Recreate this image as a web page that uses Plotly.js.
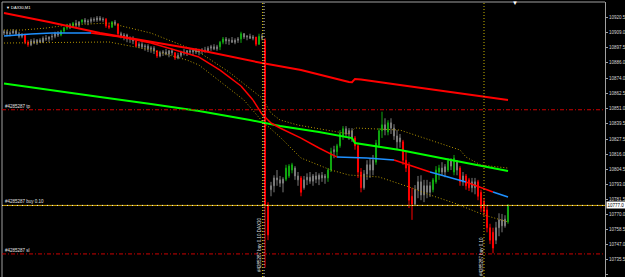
<!DOCTYPE html>
<html><head><meta charset="utf-8">
<script src="https://cdn.plot.ly/plotly-3.0.1.min.js"></script>
<style>html,body{margin:0;padding:0;background:#000;}#chart{width:625px;height:277px;}</style>
</head><body><div id="chart"></div>
<script>
// ---- DATA ----
const symbolTitle = "▼ DAX30,M1";
// bar colouring: n = neutral(gray), g = green, r = red
const barType = ("nnnnnnn"+"rr"+"nnnnnnnnnn"+"ggg"+"n"+"g"+"nn"+"g"+"nnnnnnn"+"rr"+"g"+"n"+"r"+"nnnnn"+"r"+"nnnnnn"+"r"+"nnnnn"+"r"+
  "nnnnnnnnnnnnnn"+"gg"+"nnnnn"+"g"+"nnnn"+"r"+"g"+"n"+"rr"+"nnnnn"+"ggg"+"nn"+"r"+"nnnnnnnn"+"gg"+"n"+"ggg"+"nnn"+"rrr"+"nnnn"+
  "ggg"+"n"+"g"+"nnnn"+"rrrr"+"nnnnnn"+"ggg"+"nn"+"g"+"n"+"g"+"n"+"r"+"n"+"rr"+"nn"+"rrrrrr"+"nnnn"+"g").split('');

const openP = [
10908.5,10909.5,10908.0,10908.5,10910.0,10908.0,10906.0,10907.0,10901.5,10899.5,
10902.5,10901.0,10903.0,10901.5,10904.5,10904.0,10905.5,10906.0,10908.0,10907.0,
10910.0,10912.5,10914.5,10913.0,10916.0,10914.5,10917.0,10918.5,10917.0,10917.5,
10919.0,10918.5,10920.0,10918.5,10919.0,10914.0,10913.0,10917.0,10915.5,10908.0,
10906.0,10907.0,10904.0,10904.5,10902.5,10898.5,10900.0,10898.0,10898.5,10896.5,
10897.0,10895.0,10891.0,10893.5,10894.0,10892.5,10895.0,10893.5,10889.5,10891.5,
10894.0,10893.5,10895.0,10894.0,10895.5,10894.0,10895.0,10895.5,10895.0,10897.0,
10898.0,10896.5,10898.0,10901.5,10904.0,10902.5,10903.0,10901.5,10903.0,10904.0,
10908.0,10905.5,10906.0,10904.5,10905.5,10900.0,10906.0,10903.0,10777.5,10789.0,
10792.0,10798.0,10796.5,10794.0,10797.0,10799.5,10804.0,10805.5,10799.5,10798.0,
10790.5,10796.5,10798.5,10795.5,10799.5,10797.0,10800.0,10798.0,10798.0,10804.0,
10818.0,10818.0,10822.5,10830.0,10835.5,10831.5,10834.0,10828.5,10822.5,10802.5,
10790.5,10801.0,10808.0,10804.0,10810.0,10823.0,10834.0,10838.5,10833.0,10840.0,
10836.0,10830.0,10825.5,10825.5,10811.5,10807.0,10784.0,10778.0,10789.0,10795.0,
10785.0,10792.0,10787.0,10789.0,10795.0,10802.5,10805.5,10802.5,10804.0,10811.0,
10802.5,10810.0,10805.5,10795.0,10799.5,10796.5,10790.5,10795.0,10795.0,10787.0,
10779.5,10773.5,10760.0,10756.5,10750.5,10760.0,10766.0,10761.5,10764.5];
const highP = [
10911.0,10911.0,10910.0,10911.5,10911.0,10909.5,10908.5,10908.0,10903.0,10904.0,
10904.5,10904.0,10904.5,10906.0,10907.0,10906.0,10908.0,10909.5,10910.0,10911.0,
10913.0,10915.5,10916.0,10917.0,10918.5,10917.5,10919.0,10920.0,10919.0,10920.5,
10920.5,10921.5,10921.5,10920.5,10920.0,10916.0,10917.5,10918.5,10916.0,10909.5,
10908.5,10908.0,10906.0,10906.0,10903.0,10901.5,10901.5,10900.0,10900.0,10898.5,
10898.5,10895.5,10895.0,10895.5,10896.5,10895.5,10896.5,10894.0,10893.5,10895.0,
10896.5,10895.5,10897.0,10896.5,10897.0,10896.5,10897.0,10898.0,10898.5,10899.5,
10900.0,10899.5,10902.5,10905.5,10905.5,10904.5,10905.5,10904.5,10905.5,10909.5,
10908.5,10907.0,10908.0,10907.0,10905.5,10908.0,10908.0,10904.5,10779.5,10795.0,
10800.0,10804.0,10799.5,10798.5,10808.0,10808.5,10809.5,10807.0,10802.5,10799.5,
10799.5,10801.5,10802.5,10801.0,10802.5,10801.5,10802.5,10801.0,10805.5,10821.0,
10822.5,10824.0,10834.5,10837.5,10837.5,10836.0,10836.0,10830.0,10824.5,10805.5,
10804.0,10811.5,10813.0,10815.5,10827.0,10836.0,10848.5,10843.5,10842.0,10843.5,
10839.0,10834.5,10831.5,10827.0,10818.0,10810.0,10790.5,10792.5,10799.5,10800.0,
10796.5,10796.5,10795.0,10798.0,10807.0,10808.0,10810.0,10808.5,10813.0,10813.0,
10815.5,10811.5,10807.0,10802.5,10801.0,10798.0,10798.0,10798.0,10796.5,10789.0,
10782.5,10776.5,10763.0,10760.0,10764.5,10771.0,10770.5,10769.5,10778.0];
const lowP = [
10907.0,10906.0,10906.0,10908.0,10907.0,10904.5,10904.5,10900.0,10898.0,10898.5,
10900.0,10899.5,10901.0,10901.0,10902.5,10901.5,10903.0,10904.5,10905.5,10906.0,
10908.5,10911.0,10911.5,10912.5,10913.0,10913.0,10915.5,10915.5,10914.5,10916.0,
10917.0,10917.0,10917.5,10917.0,10912.5,10911.5,10912.5,10914.0,10906.0,10904.5,
10903.0,10901.5,10901.0,10900.0,10898.0,10897.0,10896.5,10895.0,10894.0,10893.5,
10892.5,10889.5,10890.0,10891.0,10891.5,10890.0,10891.5,10888.0,10888.5,10890.0,
10891.5,10891.0,10892.5,10891.5,10892.5,10891.5,10892.5,10893.5,10894.0,10895.0,
10895.5,10895.0,10895.5,10900.0,10900.0,10899.5,10901.0,10900.0,10901.0,10901.0,
10904.0,10903.0,10904.0,10903.0,10898.5,10899.5,10903.0,10729.5,10750.5,10784.0,
10787.0,10792.0,10791.0,10787.0,10795.5,10798.0,10801.5,10796.5,10792.0,10784.0,
10789.0,10792.5,10793.5,10792.0,10794.0,10792.5,10795.0,10793.5,10795.0,10802.5,
10813.0,10814.5,10821.0,10827.0,10829.0,10827.0,10825.5,10819.5,10798.0,10787.0,
10789.0,10796.5,10798.0,10800.0,10808.0,10821.0,10828.5,10830.5,10830.5,10831.5,
10827.0,10819.5,10821.0,10808.0,10802.5,10775.0,10766.0,10776.5,10782.5,10781.0,
10779.5,10782.5,10783.5,10787.0,10793.5,10796.5,10799.5,10798.5,10802.5,10804.0,
10800.0,10800.0,10792.0,10792.0,10789.0,10788.0,10787.0,10785.5,10781.0,10772.0,
10769.0,10756.5,10747.5,10740.5,10747.5,10753.5,10756.5,10760.0,10763.0];
const closeP = [
10909.5,10908.0,10908.5,10910.0,10908.0,10906.0,10907.0,10901.5,10899.5,10902.5,
10901.0,10903.0,10901.5,10904.5,10904.0,10905.5,10906.0,10908.0,10907.0,10910.0,
10912.5,10914.5,10913.0,10916.0,10914.5,10917.0,10918.5,10917.0,10917.5,10919.0,
10918.5,10920.0,10918.5,10919.0,10914.0,10913.0,10917.0,10915.5,10908.0,10906.0,
10907.0,10904.0,10904.5,10902.5,10898.5,10900.0,10898.0,10898.5,10896.5,10897.0,
10895.0,10891.0,10893.5,10894.0,10892.5,10895.0,10893.5,10889.5,10891.5,10894.0,
10893.5,10895.0,10894.0,10895.5,10894.0,10895.0,10895.5,10895.0,10897.0,10898.0,
10896.5,10898.0,10901.5,10904.0,10902.5,10903.0,10901.5,10903.0,10904.0,10908.0,
10905.5,10906.0,10904.5,10905.5,10900.0,10906.0,10904.5,10777.5,10754.5,10792.0,
10798.0,10796.5,10794.0,10797.0,10805.5,10807.0,10808.0,10799.5,10796.5,10787.0,
10796.5,10798.5,10795.5,10799.5,10797.0,10800.0,10798.0,10799.5,10804.0,10818.0,
10819.5,10822.5,10832.0,10835.5,10831.5,10834.0,10828.5,10822.5,10802.5,10790.5,
10801.0,10808.0,10804.0,10811.5,10824.5,10834.0,10838.5,10834.5,10840.0,10836.0,
10830.0,10825.5,10828.5,10811.5,10805.5,10781.0,10778.0,10789.0,10795.0,10785.0,
10792.0,10787.0,10792.0,10796.5,10804.0,10805.5,10802.5,10806.5,10811.0,10807.0,
10813.0,10804.0,10795.0,10799.5,10792.0,10790.5,10795.0,10790.5,10784.0,10775.0,
10772.0,10760.0,10750.5,10744.5,10760.0,10766.0,10761.5,10766.5,10776.5];

// slow moving average (red)
const slowMaX = [0,15,32,49,65,86,99,115,116,117,119,132,149,168];
const slowMaY = [10923.8,10916.9,10908.5,10901.7,10895.6,10885.6,10880.3,10871.2,10871.0,10873.5,10873.0,10868.9,10863.5,10857.4];
// green moving average
const greenMaX = [0,15,32,49,65,82,92,105,116,117,132,149,168];
const greenMaY = [10870.0,10865.0,10859.7,10854.4,10849.0,10842.2,10837.6,10833.0,10828.4,10824.6,10819.3,10811.7,10803.3];
// trend-coloured moving average (b = rising/blue, r = falling/red; colour of segment starting at point)
const trendMaX = [0,9,16,29,39,49,57,65,72,79,83,86,89,92,99,105,111,121,130,142,154,163,168];
const trendMaY = [10906.2,10907.8,10908.5,10908.5,10905.5,10900.9,10895.6,10890.2,10880.3,10868.1,10857.4,10846.7,10839.9,10836.1,10828.4,10820.8,10813.9,10813.2,10811.7,10802.5,10794.9,10787.2,10783.4];
const trendMaDir = ['b','b','b','r','r','r','r','r','r','r','r','r','r','r','r','r','b','b','r','b','r','b','b'];
// envelope bands (dotted)
const envUpX = [0,6,14,21,35,49,65,75,86,89,92,98,115,117,132,139,152,154,159,168];
const envUpY = [10910.8,10910.8,10912.3,10914.6,10916.2,10908.5,10894.0,10878.8,10858.9,10847.5,10842.2,10838.3,10831.5,10836.1,10834.5,10829.2,10819.3,10813.9,10807.8,10805.5];
const envLoX = [0,35,49,61,65,80,86,92,99,109,115,125,135,142,150,154,160,168];
const envLoY = [10900.9,10901.7,10895.6,10887.9,10884.1,10857.4,10841.4,10829.2,10813.2,10804.0,10800.2,10798.7,10791.1,10785.0,10778.9,10775.0,10769.7,10764.4];

// order levels
const orderId = "#4285287";
const tpPrice = 10850.0, buyPrice = 10777.0, slPrice = 10740.0, bidPrice = 10777.0;
const vLineX = [86.17, 160];
const vLineWhiteX = 86.67;
const tickVals = [10920.5,10909.0,10897.5,10886.0,10874.0,10862.5,10851.0,10839.5,10827.5,10816.0,10804.5,10793.0,10781.5,10770.0,10758.5,10747.0,10735.5,10724.0];

// ---- BUILD ----
const colors = {n:'#7a7a7a', g:'#10a810', r:'#ff0000'};
const traces = [];
['n','g','r'].forEach(t=>{
  const x=[],o=[],h=[],l=[],c=[];
  for(let i=0;i<barType.length;i++){ if(barType[i]===t){x.push(i);o.push(openP[i]);h.push(highP[i]);l.push(lowP[i]);c.push(closeP[i]);} }
  traces.push({type:'candlestick', x:x, open:o, high:h, low:l, close:c, whiskerwidth:0,
    increasing:{line:{color:colors[t],width:1},fillcolor:colors[t]},
    decreasing:{line:{color:colors[t],width:1},fillcolor:colors[t]}, hoverinfo:'skip'});
});
const dotted = '#b49600';
traces.push({type:'scatter',mode:'lines',x:envUpX,y:envUpY,line:{color:dotted,width:1,dash:'1px,2px'}});
traces.push({type:'scatter',mode:'lines',x:envLoX,y:envLoY,line:{color:dotted,width:1,dash:'1px,2px'}});
traces.push({type:'scatter',mode:'lines',x:greenMaX,y:greenMaY,line:{color:'#00ff00',width:2}});
traces.push({type:'scatter',mode:'lines',x:slowMaX,y:slowMaY,line:{color:'#ff0000',width:2}});
for(let i=0;i<trendMaX.length-1;i++){
  traces.push({type:'scatter',mode:'lines',x:[trendMaX[i],trendMaX[i+1]],y:[trendMaY[i],trendMaY[i+1]],
    line:{color: trendMaDir[i]==='b' ? '#1e90ff' : '#ff0000', width:1.5}});
}

const shapes = [
  {type:'line',xref:'paper',yref:'paper',x0:0,x1:0,y0:0,y1:1,line:{color:'#a0a0a0',width:1}},
  {type:'line',xref:'paper',yref:'paper',x0:0,x1:1,y0:1,y1:1,line:{color:'#a0a0a0',width:1}},
  {type:'line',xref:'paper',yref:'y',x0:0,x1:1,y0:tpPrice,y1:tpPrice,line:{color:'#cc0000',width:1,dash:'4px,2px,1px,2px'}},
  {type:'line',xref:'paper',yref:'y',x0:0,x1:1,y0:slPrice,y1:slPrice,line:{color:'#cc0000',width:1,dash:'4px,2px,1px,2px'}},
  {type:'line',xref:'paper',yref:'y',x0:0,x1:1,y0:buyPrice,y1:buyPrice,line:{color:'#d0a400',width:1}},
  {type:'line',xref:'paper',yref:'y',x0:0,x1:1,y0:buyPrice,y1:buyPrice,line:{color:'#e8e8e8',width:1,dash:'1px,4px'}},
  {type:'line',xref:'x',yref:'paper',x0:vLineWhiteX,x1:vLineWhiteX,y0:0,y1:1,line:{color:'#d8d8d8',width:1,dash:'1px,2px'}}
];
vLineX.forEach(v=>shapes.push({type:'line',xref:'x',yref:'paper',x0:v,x1:v,y0:0,y1:1,line:{color:'#c8b400',width:1,dash:'1px,2px'}}));

const small = {family:'Liberation Sans, Arial, sans-serif', size:4.5, color:'#e0e0e0'};
const annotations = [
  {xref:'paper',yref:'paper',x:0.004,y:1,xanchor:'left',yanchor:'top',yshift:-1,text:symbolTitle,showarrow:false,font:{family:small.family,size:4,color:'#ffffff'}},
  {xref:'paper',yref:'y',x:0.004,y:tpPrice,xanchor:'left',yanchor:'bottom',text:orderId+' tp',showarrow:false,font:small,borderpad:0},
  {xref:'paper',yref:'y',x:0.004,y:buyPrice,xanchor:'left',yanchor:'bottom',text:orderId+' buy 0.10',showarrow:false,font:small,borderpad:0},
  {xref:'paper',yref:'y',x:0.004,y:slPrice,xanchor:'left',yanchor:'bottom',text:orderId+' sl',showarrow:false,font:small,borderpad:0},
  {xref:'x',yref:'y',x:85.33,y:10747.6,text:orderId+' buy 0.10 DAX30',textangle:-90,showarrow:false,font:small,borderpad:0},
  {xref:'x',yref:'y',x:159.17,y:10738.0,text:orderId+' buy 0.10',textangle:-90,showarrow:false,font:small,borderpad:0},
  {xref:'paper',yref:'y',x:1,y:bidPrice,xanchor:'left',yanchor:'middle',xshift:1,text:bidPrice.toFixed(1),showarrow:false,
    bgcolor:'#ffffff',font:{family:small.family,size:4.5,color:'#000000'},borderpad:0.5},
  {xref:'paper',yref:'paper',x:0.851,y:1,xanchor:'center',yanchor:'middle',yshift:-1,text:'▼',showarrow:false,font:{size:6,color:'#ffffff'}}
];

const layout = {
  width:625, height:277, margin:{l:2,r:20,t:2,b:0},
  paper_bgcolor:'#000000', plot_bgcolor:'#000000', showlegend:false, hovermode:false,
  boxgap:0.5,
  xaxis:{visible:false, range:[-0.667,200.333], rangeslider:{visible:false}, fixedrange:true},
  yaxis:{side:'right', range:[10722.4,10932.2], tickvals:tickVals, ticktext:tickVals.map(v=>v.toFixed(1)),
    tickfont:{family:small.family,size:4.5,color:'#d8d8d8'}, ticks:'outside', ticklen:2, tickcolor:'#a0a0a0',
    showline:true, linecolor:'#a0a0a0', linewidth:1, showgrid:false, zeroline:false, fixedrange:true},
  shapes:shapes, annotations:annotations
};
Plotly.newPlot('chart', traces, layout, {staticPlot:true, displayModeBar:false});
</script></body></html>
